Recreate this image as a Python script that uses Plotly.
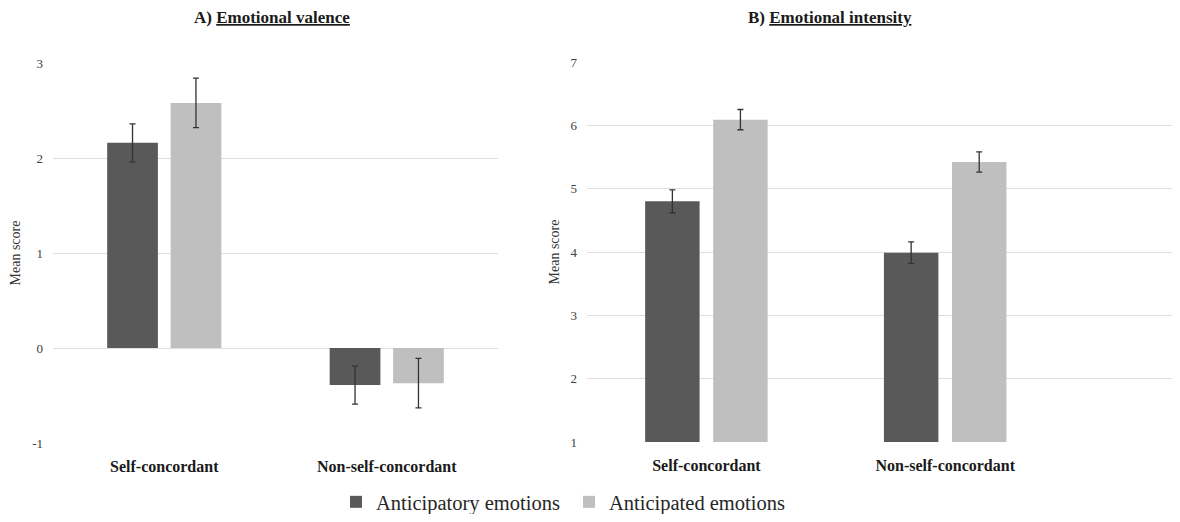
import plotly.graph_objects as go

categories = ["Self-concordant", "Non-self-concordant"]
series_names = ["Anticipatory emotions", "Anticipated emotions"]

valence_anticipatory = [2.16, -0.39]
valence_anticipatory_err = [0.20, 0.20]
valence_anticipated = [2.58, -0.37]
valence_anticipated_err = [0.26, 0.26]

intensity_anticipatory = [4.80, 3.99]
intensity_anticipatory_err = [0.18, 0.17]
intensity_anticipated = [6.09, 5.42]
intensity_anticipated_err = [0.16, 0.16]

valence_ticks = [-1, 0, 1, 2, 3]
intensity_ticks = [1, 2, 3, 4, 5, 6, 7]

dark = "#595959"
light = "#bfbfbf"
err_color = "#333333"
serif = "Liberation Serif"

# page is 1180x522; the html body has an 8px margin
OFF = 8
W, H = 1180 - 2 * OFF, 522 - 2 * OFF

def fx(px):
    return (px - OFF) / W

def fy(py):
    return 1 - (py - OFF) / H

def px_x(a, b):
    return [fx(a), min(fx(b), 1.0)]

def px_y(top, bottom):
    return [fy(bottom), fy(top)]

fig = go.Figure()

def add_bars(xaxis, yaxis, vals, errs, name, color, show):
    fig.add_trace(go.Bar(
        x=categories, y=vals, name=name, marker=dict(color=color, line=dict(width=0)),
        error_y=dict(type="data", array=errs, color=err_color, thickness=1.3, width=3),
        xaxis=xaxis, yaxis=yaxis, showlegend=show, legendgroup=name,
    ))

add_bars("x", "y", valence_anticipatory, valence_anticipatory_err, series_names[0], dark, True)
add_bars("x", "y", valence_anticipated, valence_anticipated_err, series_names[1], light, True)
add_bars("x2", "y2", intensity_anticipatory, intensity_anticipatory_err, series_names[0], dark, False)
add_bars("x2", "y2", intensity_anticipated, intensity_anticipated_err, series_names[1], light, False)

tick_font = dict(family=serif, size=13, color="#404040")
cat_font = dict(family=serif, size=16, color="#1a1a1a")
cat_text = ["<b>" + c + "</b>" for c in categories]

xcommon = dict(type="category", tickmode="array", tickvals=categories, ticktext=cat_text,
               tickfont=cat_font, showgrid=False, showline=False, zeroline=False, ticks="",
               ticklabelstandoff=12, automargin=False)
ycommon = dict(showgrid=True, gridcolor="#dedede", gridwidth=1.2, zeroline=False, showline=False,
               ticks="", tickfont=tick_font, ticklabelstandoff=9, automargin=False, tickmode="array")

def ytitle(standoff):
    return dict(text="Mean score", font=dict(family=serif, size=14, color="#333333"), standoff=standoff)

# right panel domain: 587 -> 1178 page px; visible part clipped at figure edge
right_lo, right_hi = 587, 1178
right_range_hi = 1.975 - (right_hi - (OFF + W)) / 238.5

fig.update_layout(
    template="none",
    width=W, height=H,
    margin=dict(l=0, r=0, t=0, b=0, autoexpand=False),
    paper_bgcolor="white", plot_bgcolor="white",
    barmode="group", bargap=0.43, bargroupgap=0.2,
    xaxis=dict(domain=px_x(53, 498), range=[-0.5, 1.5], anchor="y", **xcommon),
    xaxis2=dict(domain=px_x(right_lo, right_hi), range=[-0.5, right_range_hi], anchor="y2", **xcommon),
    yaxis=dict(domain=px_y(63, 443), range=[-1, 3], tickvals=valence_ticks,
               ticktext=[str(v) for v in valence_ticks], anchor="x", title=ytitle(12), **ycommon),
    yaxis2=dict(domain=px_y(62, 442), range=[1, 7], tickvals=intensity_ticks,
                ticktext=[str(v) for v in intensity_ticks], anchor="x2", title=ytitle(7), **ycommon),
    legend=dict(orientation="h", x=fx(336), xanchor="left", y=fy(502), yanchor="middle",
                font=dict(family=serif, size=20.5, color="#262626"), itemwidth=30,
                entrywidth=188, entrywidthmode="pixels",
                traceorder="normal", bgcolor="rgba(0,0,0,0)"),
    font=dict(family=serif),
    annotations=[
        dict(text="<b>A) <u>Emotional valence</u></b>", x=fx(272), y=fy(17), xref="paper", yref="paper",
             showarrow=False, xanchor="center", yanchor="middle",
             font=dict(family=serif, size=17, color="#1a1a1a")),
        dict(text="<b>B) <u>Emotional intensity</u></b>", x=fx(830), y=fy(17), xref="paper", yref="paper",
             showarrow=False, xanchor="center", yanchor="middle",
             font=dict(family=serif, size=17, color="#1a1a1a")),
    ],
)

fig.write_html("out.html")
